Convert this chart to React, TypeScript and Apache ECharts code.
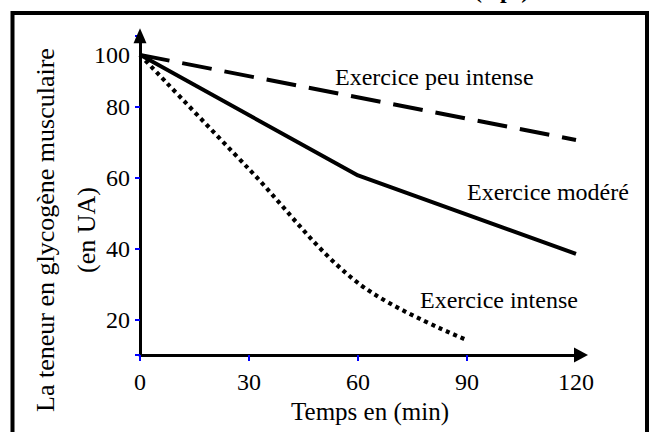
import React, { useEffect, useRef } from "react";
import * as echarts from "echarts";

const timeTicks = [0, 30, 60, 90, 120];
const yTickValues = [10, 20, 40, 60, 80, 100];
const yLabelValues = [20, 40, 60, 80, 100];

const peuIntense: [number, number][] = [
  [0, 94.6],
  [120, 70.6],
];
const modere: [number, number][] = [
  [0, 94.6],
  [60, 60.6],
  [120, 38.5],
];
const intense: [number, number][] = [
  [0, 94.6],
  [30, 62.4],
  [60, 30.3],
  [90, 14.2],
];

const FONT = '"Liberation Serif", "Times New Roman", serif';

export default function App() {
  const ref = useRef<HTMLDivElement>(null);
  useEffect(() => {
    document.body.style.margin = "0";
    const chart = echarts.init(ref.current!, null, { renderer: "svg" });
    const axisText = { color: "#000", fontSize: 24, fontFamily: FONT };
    chart.setOption({
      animation: false,
      backgroundColor: "#fff",
      grid: { left: 140, right: 76, top: 35.7, bottom: 77 },
      xAxis: {
        type: "value",
        min: 0,
        max: 120,
        interval: 30,
        name: "Temps en (min)",
        nameLocation: "middle",
        nameGap: 40,
        nameTextStyle: { ...axisText, fontSize: 25, padding: [0, 0, 0, 24] },
        axisLine: {
          lineStyle: { color: "#000", width: 3 },
          symbol: ["none", "triangle"],
          symbolSize: [15, 14],
          symbolOffset: [0, 5],
        },
        axisTick: { show: true, length: 6, lineStyle: { color: "#0000ff", width: 2 } },
        axisLabel: { ...axisText, margin: 15, customValues: timeTicks },
        splitLine: { show: false },
      },
      yAxis: {
        type: "value",
        min: 10,
        max: 100,
        axisLine: {
          show: true,
          lineStyle: { color: "#000", width: 3 },
          symbol: ["none", "triangle"],
          symbolSize: [13, 15],
        },
        axisTick: {
          show: true,
          length: 5,
          customValues: yTickValues,
          lineStyle: { color: "#0000ff", width: 2 },
        },
        axisLabel: {
          ...axisText,
          margin: 10,
          customValues: yLabelValues,
          formatter: (v: number) => (v === 100 ? "{low|100}" : String(v)),
          rich: { low: { ...axisText, padding: [38, 0, 0, 0] } },
        },
        splitLine: { show: false },
      },
      series: [
        {
          name: "Exercice peu intense",
          type: "line",
          data: peuIntense,
          symbol: "none",
          lineStyle: { color: "#000", width: 4, type: [30, 13], cap: "butt" },
        },
        {
          name: "Exercice modéré",
          type: "line",
          data: modere,
          symbol: "none",
          lineStyle: { color: "#000", width: 4 },
        },
        {
          name: "Exercice intense",
          type: "line",
          data: intense,
          symbol: "none",
          smooth: 0.35,
          lineStyle: { color: "#000", width: 4.2, type: [4, 4], cap: "butt" },
        },
      ],
      graphic: [
        {
          type: "rect",
          shape: { x: 12.5, y: 13, width: 634.5, height: 440 },
          style: { fill: "none", stroke: "#000", lineWidth: 4 },
          silent: true,
        },
        {
          type: "text",
          x: 474,
          y: 2,
          style: {
            text: "( 1pt)",
            fontSize: 24,
            fontWeight: "bold",
            fontFamily: FONT,
            fill: "#000",
            align: "left",
            verticalAlign: "bottom",
          },
        },
        {
          type: "text",
          x: 65.5,
          y: 230,
          rotation: Math.PI / 2,
          style: {
            text: "La teneur en glycogène musculaire\n(en UA)",
            fontSize: 26,
            fontFamily: FONT,
            fill: "#000",
            align: "center",
            verticalAlign: "middle",
            lineHeight: 41,
          },
        },
        {
          type: "text",
          x: 335,
          y: 77,
          style: { text: "Exercice peu intense", fontSize: 24, fontFamily: FONT, fill: "#000", align: "left", verticalAlign: "middle" },
        },
        {
          type: "text",
          x: 467,
          y: 192,
          style: { text: "Exercice modéré", fontSize: 24, fontFamily: FONT, fill: "#000", align: "left", verticalAlign: "middle" },
        },
        {
          type: "text",
          x: 420,
          y: 300,
          style: { text: "Exercice intense", fontSize: 24, fontFamily: FONT, fill: "#000", align: "left", verticalAlign: "middle" },
        },
      ],
    });
    return () => chart.dispose();
  }, []);
  return <div ref={ref} style={{ width: 652, height: 432 }} />;
}
